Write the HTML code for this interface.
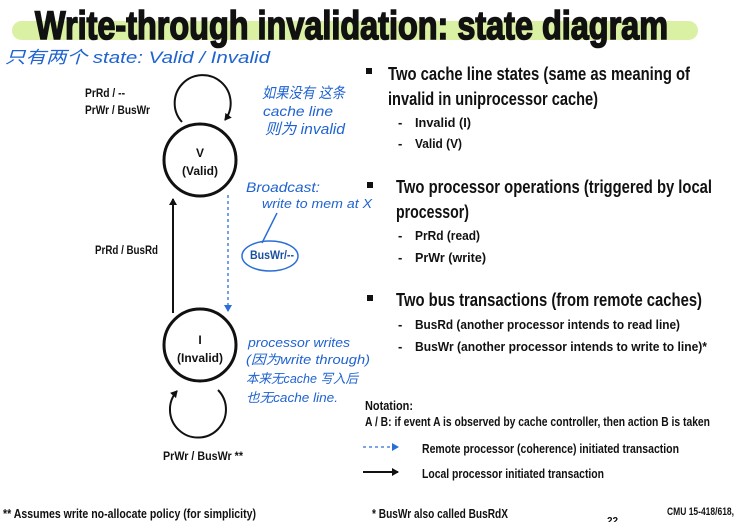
<!DOCTYPE html>
<html><head><meta charset="utf-8"><style>
html,body{margin:0;padding:0;background:#fff;}
svg{display:block;}
text{font-family:"Liberation Sans Narrow","Liberation Sans",sans-serif;font-weight:bold;fill:#111;}
.h{font-family:"Liberation Sans","Noto Sans CJK SC",sans-serif;font-weight:normal;fill:#1f63d0;font-style:italic;}
</style></head><body>
<svg width="737" height="522" viewBox="0 0 737 522" xmlns="http://www.w3.org/2000/svg">
<defs>
<marker id="ab" markerWidth="8" markerHeight="8" refX="6" refY="4" orient="auto" markerUnits="userSpaceOnUse"><path d="M0,0 L7,4 L0,8 z" fill="#111"/></marker>
<marker id="ablue" markerWidth="8" markerHeight="8" refX="6" refY="4" orient="auto" markerUnits="userSpaceOnUse"><path d="M0,0 L7,4 L0,8 z" fill="#2a6fd6"/></marker>
</defs>
<rect x="12" y="21" width="686" height="19" rx="9.5" fill="#daf1a3"/>
<text x="35" y="39" font-size="40" stroke="#111" stroke-width="1.6" textLength="633" lengthAdjust="spacingAndGlyphs">Write-through invalidation: state diagram</text>

<text class="h" x="5" y="63" font-size="17" textLength="265" lengthAdjust="spacingAndGlyphs">只有两个 state:  Valid / Invalid</text>

<text x="85" y="97" font-size="12" textLength="40" lengthAdjust="spacingAndGlyphs">PrRd / --</text>
<text x="85" y="114" font-size="12" textLength="65" lengthAdjust="spacingAndGlyphs">PrWr / BusWr</text>
<path d="M182,122 A28,28 0 1 1 225,120" fill="none" stroke="#111" stroke-width="2" marker-end="url(#ab)"/>
<circle cx="200" cy="160" r="36" fill="none" stroke="#111" stroke-width="3"/>
<text x="200" y="157" font-size="12" text-anchor="middle">V</text>
<text x="200" y="175" font-size="12" text-anchor="middle">(Valid)</text>

<text class="h" x="262" y="98" font-size="15" textLength="83" lengthAdjust="spacingAndGlyphs">如果没有 这条</text>
<text class="h" x="263" y="116" font-size="14" textLength="70" lengthAdjust="spacingAndGlyphs">cache line</text>
<text class="h" x="265" y="134" font-size="15" textLength="80" lengthAdjust="spacingAndGlyphs">则为 invalid</text>
<text class="h" x="246" y="192" font-size="14" textLength="74" lengthAdjust="spacingAndGlyphs">Broadcast:</text>
<text class="h" x="262" y="208" font-size="13" textLength="110" lengthAdjust="spacingAndGlyphs">write to mem at X</text>
<path d="M277,213 L262,243" fill="none" stroke="#2a6fd6" stroke-width="1.5"/>
<ellipse cx="270" cy="256" rx="28" ry="15" fill="none" stroke="#2a6fd6" stroke-width="1.5"/>
<text x="250" y="259" font-size="12" style="fill:#1a4f9e" textLength="44" lengthAdjust="spacingAndGlyphs">BusWr/--</text>

<text x="95" y="254" font-size="12" textLength="63" lengthAdjust="spacingAndGlyphs">PrRd / BusRd</text>
<line x1="173" y1="313" x2="173" y2="199" stroke="#111" stroke-width="2" marker-end="url(#ab)"/>
<line x1="228" y1="195" x2="228" y2="311" stroke="#2a6fd6" stroke-width="1.3" stroke-dasharray="3,3" marker-end="url(#ablue)"/>

<circle cx="200" cy="345" r="36" fill="none" stroke="#111" stroke-width="3"/>
<text x="200" y="344" font-size="12" text-anchor="middle">I</text>
<text x="200" y="362" font-size="12" text-anchor="middle">(Invalid)</text>
<path d="M218,390 A28,28 0 1 1 177,391" fill="none" stroke="#111" stroke-width="2" marker-end="url(#ab)"/>
<text x="163" y="460" font-size="12" textLength="80" lengthAdjust="spacingAndGlyphs">PrWr / BusWr **</text>

<text class="h" x="248" y="347" font-size="13" textLength="102" lengthAdjust="spacingAndGlyphs">processor writes</text>
<text class="h" x="246" y="364" font-size="13" textLength="124" lengthAdjust="spacingAndGlyphs">(因为write through)</text>
<text class="h" x="246" y="383" font-size="13" textLength="112" lengthAdjust="spacingAndGlyphs">本来无cache 写入后</text>
<text class="h" x="246" y="402" font-size="13" textLength="92" lengthAdjust="spacingAndGlyphs">也无cache line.</text>

<text x="3" y="518" font-size="13" textLength="253" lengthAdjust="spacingAndGlyphs">** Assumes write no-allocate policy (for simplicity)</text>

<rect x="366" y="68" width="6" height="6" fill="#111"/>
<text x="388" y="80" font-size="18" textLength="302" lengthAdjust="spacingAndGlyphs">Two cache line states (same as meaning of</text>
<text x="388" y="105" font-size="18" textLength="210" lengthAdjust="spacingAndGlyphs">invalid in uniprocessor cache)</text>
<text x="398" y="127" font-size="13">-</text>
<text x="415" y="127" font-size="13" textLength="56" lengthAdjust="spacingAndGlyphs">Invalid (I)</text>
<text x="398" y="148" font-size="13">-</text>
<text x="415" y="148" font-size="13" textLength="47" lengthAdjust="spacingAndGlyphs">Valid (V)</text>

<rect x="367" y="182" width="6" height="6" fill="#111"/>
<text x="396" y="193" font-size="18" textLength="316" lengthAdjust="spacingAndGlyphs">Two processor operations (triggered by local</text>
<text x="396" y="218" font-size="18" textLength="73" lengthAdjust="spacingAndGlyphs">processor)</text>
<text x="398" y="240" font-size="13">-</text>
<text x="415" y="240" font-size="13" textLength="65" lengthAdjust="spacingAndGlyphs">PrRd (read)</text>
<text x="398" y="262" font-size="13">-</text>
<text x="415" y="262" font-size="13" textLength="71" lengthAdjust="spacingAndGlyphs">PrWr (write)</text>

<rect x="367" y="295" width="6" height="6" fill="#111"/>
<text x="396" y="306" font-size="18" textLength="306" lengthAdjust="spacingAndGlyphs">Two bus transactions (from remote caches)</text>
<text x="398" y="329" font-size="13">-</text>
<text x="415" y="329" font-size="13" textLength="265" lengthAdjust="spacingAndGlyphs">BusRd (another processor intends to read line)</text>
<text x="398" y="351" font-size="13">-</text>
<text x="415" y="351" font-size="13" textLength="292" lengthAdjust="spacingAndGlyphs">BusWr (another processor intends to write to line)*</text>

<text x="365" y="410" font-size="13" textLength="48" lengthAdjust="spacingAndGlyphs">Notation:</text>
<text x="365" y="426" font-size="13" textLength="345" lengthAdjust="spacingAndGlyphs">A / B: if event A is observed by cache controller, then action B is taken</text>
<line x1="363" y1="447" x2="398" y2="447" stroke="#2a6fd6" stroke-width="1.3" stroke-dasharray="3,3" marker-end="url(#ablue)"/>
<text x="422" y="453" font-size="13" textLength="257" lengthAdjust="spacingAndGlyphs">Remote processor (coherence) initiated transaction</text>
<line x1="363" y1="472" x2="398" y2="472" stroke="#111" stroke-width="2" marker-end="url(#ab)"/>
<text x="422" y="478" font-size="13" textLength="182" lengthAdjust="spacingAndGlyphs">Local processor initiated transaction</text>

<text x="372" y="518" font-size="13" textLength="136" lengthAdjust="spacingAndGlyphs">* BusWr also called BusRdX</text>
<text x="607" y="524" font-size="10">22</text>
<text x="667" y="515" font-size="11" font-weight="normal" textLength="67" lengthAdjust="spacingAndGlyphs">CMU 15-418/618,</text>
</svg>
</body></html>
